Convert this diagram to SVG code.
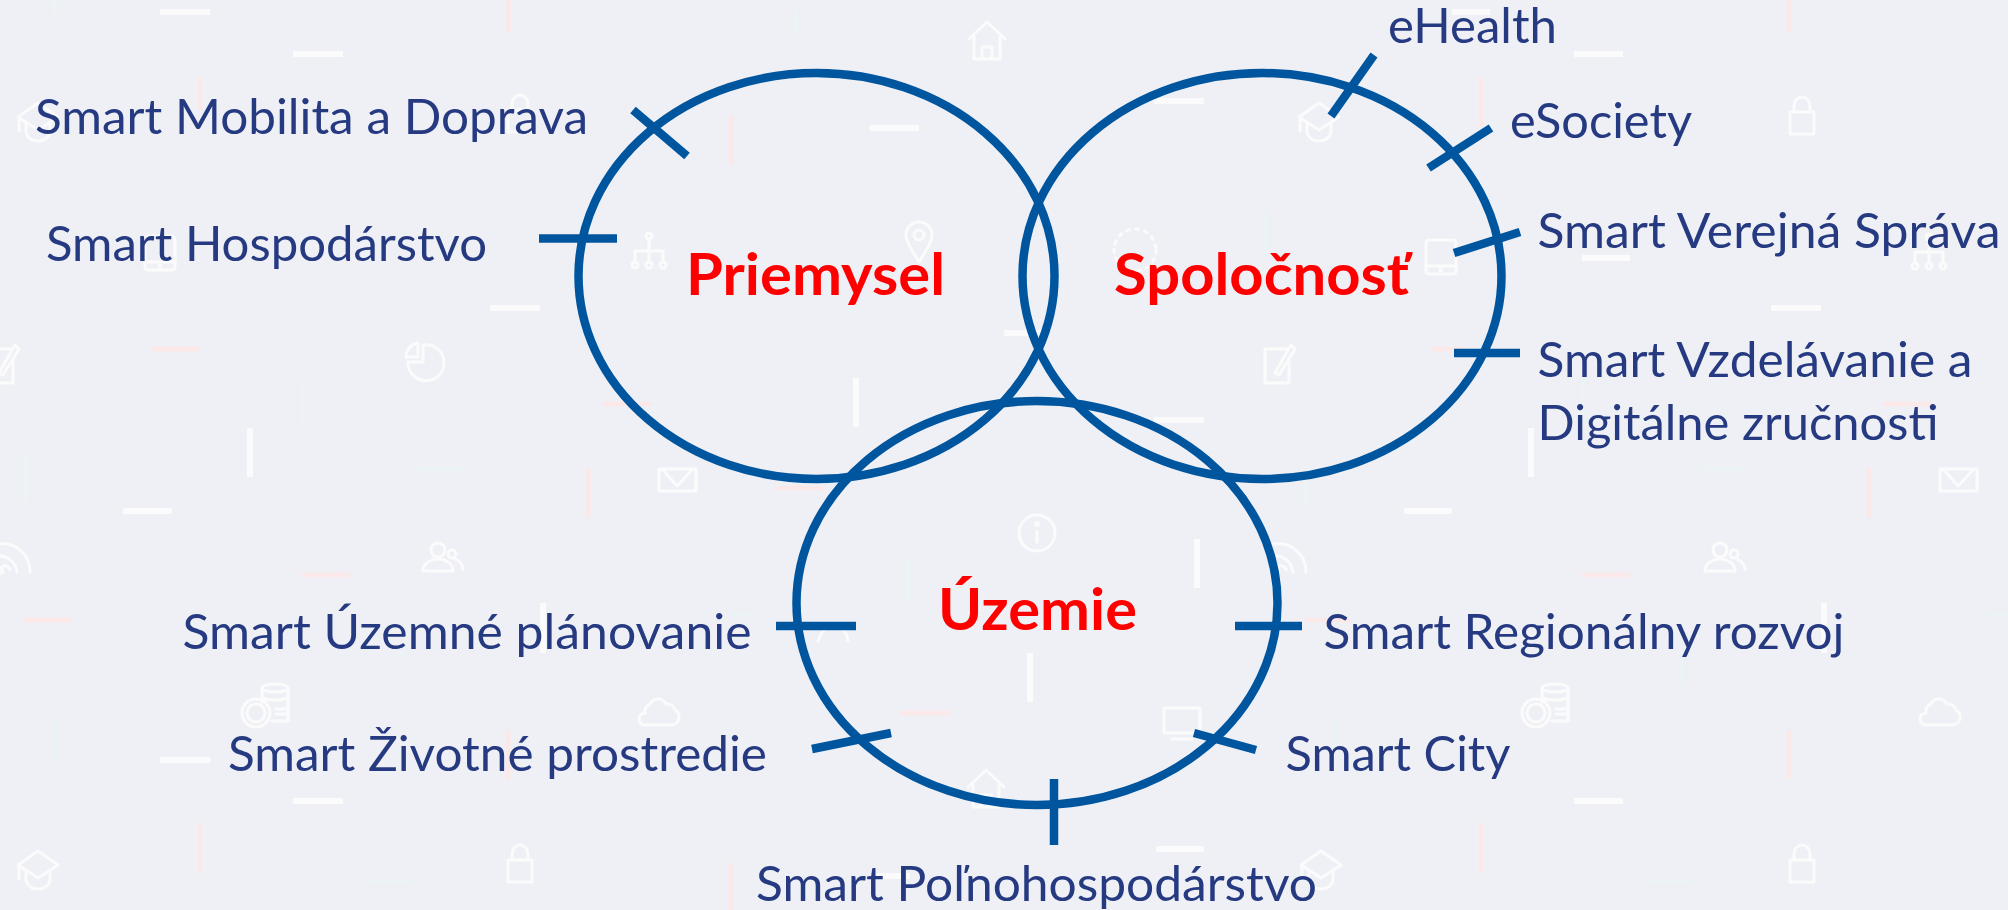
<svg xmlns="http://www.w3.org/2000/svg" width="2008" height="910" viewBox="0 0 2008 910">
<style>
.w{fill:none;stroke:#fbfbfc;stroke-width:6}
.p{fill:none;stroke:#fbe9ea;stroke-width:5}
.t{fill:none;stroke:#ebf3f5;stroke-width:4}
.i{fill:none;stroke:#fbfbfc;stroke-width:3;stroke-linejoin:round;stroke-linecap:round}
.c{fill:none;stroke:#00559f;stroke-width:8.500}
.k{fill:none;stroke:#00559f;stroke-width:8.500}
text{font-family:"Lato","Liberation Sans",sans-serif}
.l{font-size:48px;fill:#263a82}
.h{font-size:58px;font-weight:700;fill:#ff0000}
</style>
<defs>
<g id="house"><path d="M-18 -3 L0 -20 L18 -3 M-13 -5 V17 H13 V-5 M-5 17 V5 H5 V17"/></g>
<g id="cap"><path d="M0 -17 L20 -3 L0 10 L-20 -3 Z M-12 4 V11 A12 10 0 0 0 12 11 V4 M-19 -1 V11"/></g>
<g id="lock"><path d="M-12 -4 H12 V18 H-12 Z M-8 -4 V-10 A8 9 0 0 1 8 -10 V-4"/></g>
<g id="pin"><path d="M0 19 C-8 6 -13 -2 -13 -8 A13 13 0 0 1 13 -8 C13 -2 8 6 0 19 Z"/><circle cy="-8" r="5"/></g>
<g id="tree"><path d="M0 -12 V10 M-14 10 V0 H14 V10"/><circle cy="-15" r="3"/><circle cx="-14" cy="14" r="3"/><circle cy="14" r="3"/><circle cx="14" cy="14" r="3"/></g>
<g id="tablet"><rect x="-15" y="-17" width="30" height="34" rx="3"/><path d="M-15 9 H15"/><circle cy="13" r="1"/></g>
<g id="pencil"><path d="M8 -16 H-14 V18 H10 V-4 M-4 8 L12 -20 L16 -16 L0 10 Z"/></g>
<g id="pie"><path d="M-3 -18 A18 18 0 1 1 -18 -1 H-3 Z M-8 -20 V-6 H-20 A14 14 0 0 1 -8 -20 Z"/></g>
<g id="mail"><rect x="-18" y="-11" width="37" height="22"/><path d="M-14 -10 L0 6 L15 -10"/></g>
<g id="wifi"><path d="M-12 14 V10 A5 5 0 0 1 -3 12 M-16 -2 A18 18 0 0 1 4 14 M-16 -14 A28 28 0 0 1 17 14"/><circle cx="-12" cy="13" r="2"/></g>
<g id="people"><circle cx="-4" cy="-7" r="7"/><circle cx="10" cy="-3" r="4"/><path d="M-19 14 A15 12 0 0 1 11 14 Z M14 3 A10 10 0 0 1 21 12"/></g>
<g id="info"><circle r="18"/><path d="M0 -2 V9"/><circle cy="-9" r="1.500"/></g>
<g id="coins"><ellipse cx="7" cy="-17" rx="13" ry="4"/><path d="M-6 -17 V-3 M20 -17 V16 H4 M-6 -8 C-3 -4 17 -4 20 -8 M8 4 H20 M8 9 H20"/><circle cx="-12" cy="8" r="14"/><circle cx="-12" cy="8" r="9"/></g>
<g id="cloud"><path d="M-13 15 H13 A8 8 0 0 0 17 0 A8 8 0 0 0 8 -6 A9 9 0 0 0 -8 -6 A8 8 0 0 0 -13 3 A6 6 0 0 0 -13 15 Z"/></g>
<g id="monitor"><rect x="-18" y="-14" width="36" height="25"/><path d="M-10 17 H10"/></g>
</defs>
<rect width="2008" height="910" fill="#eff0f5"/>
<g id="background-decoration">
<path class="w" d="M160 12H210M293 54H343M870 128H919M490 308H540M1574 54H1623M1154 101H1204M1582 258H1630M1771 308H1821M1154 420H1204M1004 333H1049M1452 12H1490M123 511H172M160 760H210M293 801H343M877 876H910M1404 511H1452M1574 801H1623M1156 849H1204M856 378V427M250 428V477M1531 428V477M543 603V653M1197 539V588M1030 653V702M1824 603V653"/>
<path class="p" d="M152 349H200M603 404H652M1432 349H1465M1884 404H1932M301 575H350M24 620H72M775 488H823M900 713H949M1582 575H1630M1305 620H1350M508 0V32M200 77V110M731 115V165M1789 0V32M1481 77V127M588 468V518M508 730V780M200 823V873M731 863V910M1869 468V518M1789 730V778M1481 823V873"/>
<path class="t" d="M303 378V425M54 0V15M796 10V33M1265 210V257M1583 378V425M26 455V503M56 715V762M400 652V687M908 555V602M1306 472V505M1336 715V755M1681 652V687M416 469H464M365 881H413M730 615H756M1699 469H1747M1644 881H1692M1990 615H2008"/>
<g class="i">
<use href="#house" x="987" y="42"/><use href="#house" x="986" y="790"/>
<use href="#cap" x="38" y="120"/><use href="#cap" x="1319" y="120"/><use href="#cap" x="38" y="868"/><use href="#cap" x="1321" y="868"/>
<use href="#lock" x="520" y="114"/><use href="#lock" x="1802" y="116"/><use href="#lock" x="520" y="864"/><use href="#lock" x="1802" y="864"/>
<use href="#pin" x="919" y="243"/>
<use href="#tree" x="649" y="251"/><use href="#tree" x="1929" y="252"/>
<use href="#tablet" x="160" y="253"/><use href="#tablet" x="1441" y="257"/>
<use href="#pencil" x="3" y="365"/><use href="#pencil" x="1279" y="365"/>
<use href="#pie" x="426" y="363"/>
<use href="#mail" x="677" y="480"/><use href="#mail" x="1958" y="480"/>
<use href="#wifi" x="13" y="558"/><use href="#wifi" x="1289" y="558"/>
<use href="#people" x="442" y="557"/><use href="#people" x="1724" y="557"/>
<use href="#info" x="1037" y="533"/>
<use href="#coins" x="268" y="705"/><use href="#coins" x="1548" y="705"/>
<use href="#cloud" x="658" y="710"/><use href="#cloud" x="1939" y="710"/>
<use href="#monitor" x="1182" y="722"/>
<path d="M818 641 C822 630 826 628 828 628 M848 641 C846 630 842 628 840 628"/>
<circle cx="1135" cy="250" r="21" stroke-dasharray="3 6"/>
</g>
</g>
<g id="connectors">
<path class="k" d="M633 110L687 156"/>
<path class="k" d="M539 238.500H617"/>
<path class="k" d="M1374 55L1331 116"/>
<path class="k" d="M1491 128L1428.500 168"/>
<path class="k" d="M1520 232L1454 253"/>
<path class="k" d="M1454 353H1520"/>
<path class="k" d="M776 626H856"/>
<path class="k" d="M812 749L891 733"/>
<path class="k" d="M1235 626H1302"/>
<path class="k" d="M1194 733L1256 750"/>
<path class="k" d="M1054 779V845"/>
</g>
<g id="node-priemysel"><ellipse class="c" cx="816.500" cy="276" rx="238" ry="203"/><text class="h" x="686" y="295" textLength="259" lengthAdjust="spacingAndGlyphs">Priemysel</text></g>
<g id="node-spolocnost"><ellipse class="c" cx="1262" cy="276" rx="239.500" ry="203"/><text class="h" x="1114" y="295" textLength="295" lengthAdjust="spacingAndGlyphs">Spoločnosť</text></g>
<g id="node-uzemie"><ellipse class="c" cx="1037" cy="603" rx="240.500" ry="202"/><text class="h" x="938" y="630" textLength="199" lengthAdjust="spacingAndGlyphs">Územie</text></g>
<g id="node-mobilita"><text class="l" x="35" y="134" textLength="553" lengthAdjust="spacingAndGlyphs">Smart Mobilita a Doprava</text></g>
<g id="node-hospodarstvo"><text class="l" x="46" y="261" textLength="441" lengthAdjust="spacingAndGlyphs">Smart Hospodárstvo</text></g>
<g id="node-ehealth"><text class="l" x="1388" y="43" textLength="169" lengthAdjust="spacingAndGlyphs">eHealth</text></g>
<g id="node-esociety"><text class="l" x="1510" y="138" textLength="182" lengthAdjust="spacingAndGlyphs">eSociety</text></g>
<g id="node-verejna"><text class="l" x="1537.500" y="248" textLength="463" lengthAdjust="spacingAndGlyphs">Smart Verejná Správa</text></g>
<g id="node-vzdelavanie"><text class="l" x="1537.500" y="377" textLength="435" lengthAdjust="spacingAndGlyphs">Smart Vzdelávanie a</text><text class="l" x="1537.500" y="440" textLength="401" lengthAdjust="spacingAndGlyphs">Digitálne zručnosti</text></g>
<g id="node-uzemne"><text class="l" x="182.500" y="649" textLength="569" lengthAdjust="spacingAndGlyphs">Smart Územné plánovanie</text></g>
<g id="node-zivotne"><text class="l" x="228" y="771" textLength="539" lengthAdjust="spacingAndGlyphs">Smart Životné prostredie</text></g>
<g id="node-regionalny"><text class="l" x="1323.500" y="649" textLength="521" lengthAdjust="spacingAndGlyphs">Smart Regionálny rozvoj</text></g>
<g id="node-city"><text class="l" x="1285.500" y="771" textLength="225" lengthAdjust="spacingAndGlyphs">Smart City</text></g>
<g id="node-polnohospodarstvo"><text class="l" x="756" y="901" textLength="561" lengthAdjust="spacingAndGlyphs">Smart Poľnohospodárstvo</text></g>
</svg>
